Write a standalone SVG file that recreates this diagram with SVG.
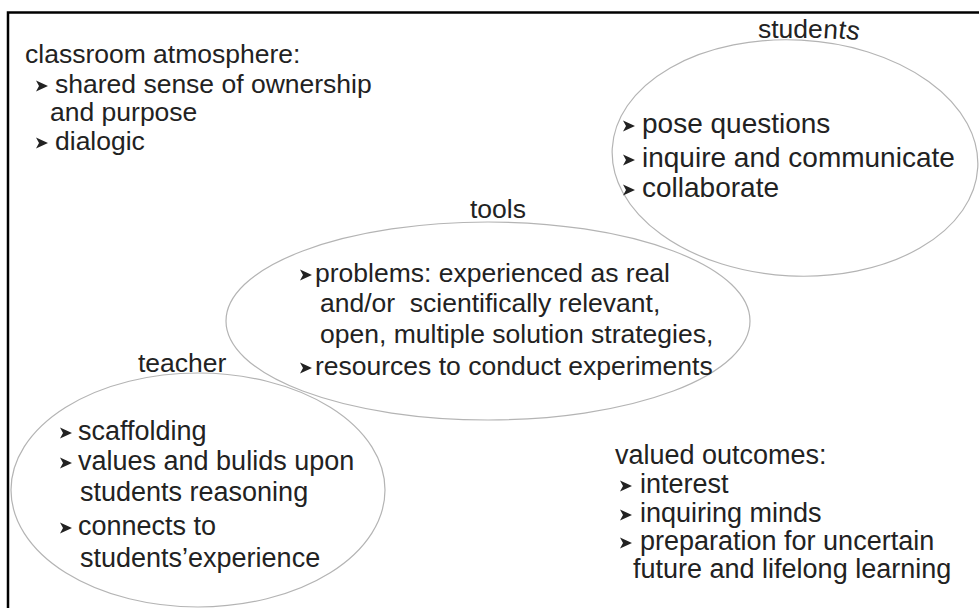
<svg xmlns="http://www.w3.org/2000/svg" xmlns:xlink="http://www.w3.org/1999/xlink" width="979" height="608" viewBox="0 0 979 608">
<style>
  text { font-family: "Liberation Sans", Arial, sans-serif; fill: #222; font-size: 26.5px; }
  .big { font-size: 28px; }
  .mid { font-size: 27px; }
  .ell { fill: none; stroke: #b4b4b4; stroke-width: 1.2; }
  .frame { fill: none; stroke: #000; stroke-width: 2.5; }
</style>
<defs>
  <path id="b" d="M0,-5.5 L12,0 L0,5.5 L3,0 Z" fill="#222"/>
</defs>
<rect width="979" height="608" fill="#fff"/>
<rect class="frame" x="8" y="12.5" width="980" height="605"/>

<g id="students">
  <ellipse class="ell" cx="795" cy="158" rx="183" ry="118" transform="rotate(3 795 158)"/>
  <text x="758" y="38">stude<tspan rotate="4 8 12">nts</tspan></text>
  <use xlink:href="#b" x="623" y="126"/>
  <text class="big" x="642" y="133">pose questions</text>
  <use xlink:href="#b" x="623" y="160"/>
  <text class="big" x="642" y="167">inquire and communicate</text>
  <use xlink:href="#b" x="623" y="190"/>
  <text class="big" x="642" y="197">collaborate</text>
</g>

<g id="tools">
  <ellipse class="ell" cx="488" cy="321" rx="262" ry="99"/>
  <text x="470" y="218">tools</text>
  <use xlink:href="#b" x="300" y="275"/>
  <text x="315" y="282">problems: experienced as real</text>
  <text x="320" y="312" xml:space="preserve">and/or  scientifically relevant,</text>
  <text x="320" y="343">open, multiple solution strategies,</text>
  <use xlink:href="#b" x="300" y="368"/>
  <text x="315" y="375">resources to conduct experiments</text>
</g>

<g id="teacher">
  <ellipse class="ell" cx="198" cy="490" rx="187" ry="117"/>
  <text x="138" y="372">teacher</text>
  <use xlink:href="#b" x="60" y="433"/>
  <text class="mid" x="78" y="440">scaffolding</text>
  <use xlink:href="#b" x="60" y="463"/>
  <text class="mid" x="78" y="470">values and bulids upon</text>
  <text class="mid" x="80" y="501">students reasoning</text>
  <use xlink:href="#b" x="60" y="528"/>
  <text class="mid" x="78" y="535">connects to</text>
  <text class="mid" x="80" y="567">students’experience</text>
</g>

<g id="classroom-atmosphere">
  <text x="25" y="63">classroom atmosphere:</text>
  <use xlink:href="#b" x="36" y="86"/>
  <text x="55" y="93">shared sense of ownership</text>
  <text x="50" y="121">and purpose</text>
  <use xlink:href="#b" x="36" y="143"/>
  <text x="55" y="150">dialogic</text>
</g>

<g id="valued-outcomes">
  <text class="mid" x="615" y="464">valued outcomes:</text>
  <use xlink:href="#b" x="620" y="486"/>
  <text class="mid" x="640" y="493">interest</text>
  <use xlink:href="#b" x="620" y="515"/>
  <text class="mid" x="640" y="522">inquiring minds</text>
  <use xlink:href="#b" x="620" y="543"/>
  <text class="mid" x="640" y="550">preparation for uncertain</text>
  <text class="mid" x="633" y="578">future and lifelong learning</text>
</g>

<g id="connectors"/>
</svg>
